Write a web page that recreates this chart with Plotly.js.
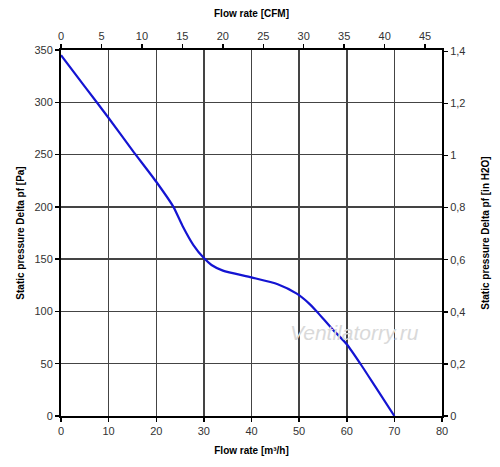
<!DOCTYPE html>
<html>
<head>
<meta charset="utf-8">
<script src="https://cdn.plot.ly/plotly-3.0.1.min.js"></script>
<style>html,body{margin:0;padding:0;background:#fff;}#chart{width:500px;height:467px;}</style>
</head>
<body>
<div id="chart"></div>
<script>
// Flow rate [m³/h] and static pressure [Pa]
var flowM3h = [0, 5, 10, 15, 20, 23.6, 25.5, 27.8, 30, 31.6, 34, 40, 45.5, 49.5, 52, 53.7, 57, 60, 63, 66, 70];
var pressurePa = [345, 315, 285, 254, 224, 200, 182, 163.5, 151, 144.4, 139, 132.5, 126, 117, 108, 100, 83, 68.6, 49, 28, 0];

var M3H_PER_CFM = 1.699;
var PA_PER_INH2O = 249.09;
var xRangeM3h = [0, 80];
var yRangePa = [0, 350];

var rightTickVals = [0, 0.2, 0.4, 0.6, 0.8, 1, 1.2, 1.4];

var titleFont = {family: 'Liberation Sans, Arial, sans-serif', size: 10, color: '#000', weight: 'bold'};
var tickFont = {family: 'Liberation Sans, Arial, sans-serif', size: 11, color: '#333'};

var main = {
  x: flowM3h, y: pressurePa, type: 'scatter', mode: 'lines',
  line: {color: '#1414d2', width: 2.2, shape: 'spline', smoothing: 0.6},
  hoverinfo: 'skip', showlegend: false
};
var ghost = {
  x: flowM3h.map(function(v){return v / M3H_PER_CFM;}),
  y: pressurePa.map(function(v){return v / PA_PER_INH2O;}),
  xaxis: 'x2', yaxis: 'y2', type: 'scatter', mode: 'lines',
  line: {width: 0}, opacity: 0, hoverinfo: 'skip', showlegend: false
};

var axisCommon = {
  showline: true, linecolor: '#000', linewidth: 2,
  ticks: 'outside', ticklen: 4, tickwidth: 1.5, tickcolor: '#000',
  tickfont: tickFont, zeroline: false, fixedrange: true
};

var layout = {
  width: 500, height: 467,
  margin: {l: 61, r: 58, t: 50, b: 51, pad: 0},
  paper_bgcolor: '#fff', plot_bgcolor: '#fff',
  separators: ', ',
  showlegend: false,
  xaxis: Object.assign({}, axisCommon, {
    range: xRangeM3h, dtick: 10, tick0: 0,
    showgrid: true, gridcolor: '#444', gridwidth: 1.5,
    title: {text: 'Flow rate [m³/h]', font: titleFont, standoff: 11}
  }),
  yaxis: Object.assign({}, axisCommon, {
    range: yRangePa, dtick: 50, tick0: 0,
    showgrid: true, gridcolor: '#444', gridwidth: 1.5,
    title: {text: 'Static pressure Delta pf [Pa]', font: titleFont, standoff: 8}
  }),
  xaxis2: Object.assign({}, axisCommon, {
    range: [xRangeM3h[0] / M3H_PER_CFM, xRangeM3h[1] / M3H_PER_CFM],
    dtick: 5, tick0: 0, overlaying: 'x', side: 'top', anchor: 'y',
    showgrid: false,
    title: {text: 'Flow rate [CFM]', font: titleFont, standoff: 10}
  }),
  yaxis2: Object.assign({}, axisCommon, {
    range: [yRangePa[0] / PA_PER_INH2O, yRangePa[1] / PA_PER_INH2O],
    tickmode: 'array', tickvals: rightTickVals,
    overlaying: 'y', side: 'right', anchor: 'x',
    showgrid: false,
    title: {text: 'Static pressure Delta pf [in H2O]', font: titleFont, standoff: 18}
  }),
  annotations: [{
    text: 'Ventilatorry.ru', xref: 'paper', yref: 'paper',
    x: 0.77, y: 0.227, xanchor: 'center', yanchor: 'middle', showarrow: false,
    font: {family: 'Liberation Sans, Arial, sans-serif', size: 21, color: '#d9d9d9', style: 'italic'}
  }]
};

Plotly.newPlot('chart', [main, ghost], layout, {displayModeBar: false, staticPlot: true});
</script>
</body>
</html>
